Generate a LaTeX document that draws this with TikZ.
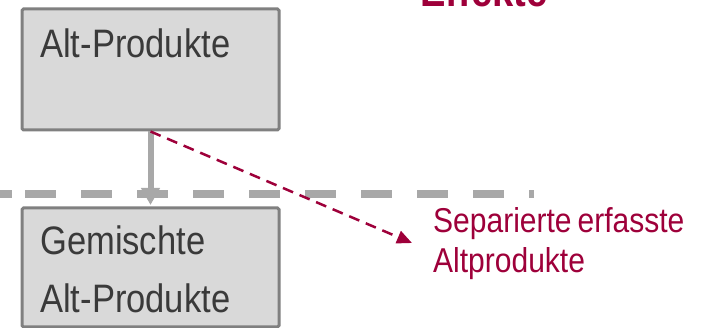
\documentclass[tikz,border=0pt]{standalone}
\usepackage{fontspec}
\setmainfont[FakeStretch=0.87]{Liberation Sans}
\usetikzlibrary{arrows.meta}
\definecolor{boxfill}{HTML}{D9D9D9}
\definecolor{boxline}{HTML}{808080}
\definecolor{lightline}{HTML}{A8A8A8}
\definecolor{wine}{RGB}{158,0,58}
\definecolor{boxtext}{HTML}{3A3A3A}
\newcommand\narrowspaces{\spaceskip=6pt\relax}
\begin{document}
\begin{tikzpicture}[x=1pt,y=-1pt,
  box/.style={draw=boxline, line width=3pt, fill=boxfill, rounded corners=1.5pt,
    inner sep=0pt, anchor=north west, minimum width=257pt},
  boxlabel/.style={anchor=base west, inner sep=0pt, text=boxtext,
    font=\fontsize{39.7}{58}\selectfont, text width=240pt, align=left},
  redlabel/.style={anchor=base west, inner sep=0pt, text=wine,
    font=\fontsize{34.5}{40}\selectfont, text width=270pt, align=left,
    execute at begin node=\narrowspaces},
  titlelabel/.style={anchor=base west, inner sep=0pt, text=wine,
    font=\bfseries\fontsize{43.8}{50}\selectfont},
  flowarrow/.style={draw=lightline, line width=6pt,
    -{Triangle[length=17pt,width=18pt]}, shorten >=1.5pt},
  sepline/.style={draw=lightline, line width=8pt,
    dash pattern=on 12pt off 13pt on 31pt off 25pt on 31pt off 25pt on 31pt off 25pt
      on 31pt off 25pt on 31pt off 25pt on 31pt off 25pt on 31pt off 25pt
      on 31pt off 25pt on 31pt off 25pt on 31pt off 25pt},
  redarrow/.style={draw=wine, line width=2.5pt, dash pattern=on 11pt off 7pt,
    -{Triangle[length=15pt,width=13pt]}}
]
\useasboundingbox (0,0) rectangle (707,328);
\clip (0,0) rectangle (707,328);

\node[titlelabel] (title) at (420,7) {Effekte};

\coordinate (sepL) at (0,194);
\coordinate (sepR) at (534,194);
\draw[sepline] (sepL) -- (sepR);

\node[box, minimum height=121pt] (alt) at (20.5,7.5) {};
\node[box, minimum height=119pt] (gem) at (20.5,206.5) {};

\node[boxlabel] (altlabel) at (40,58) {Alt-Produkte};
\node[boxlabel] (gemlabel) at (40,255) {Gemischte\\Alt-Produkte};

\draw[flowarrow] (alt.south) -- (gem.north);

\coordinate (sepend) at (412,243);
\draw[redarrow] (alt.south) -- (sepend);

\node[redlabel] (sep) at (433,233) {Separierte erfasste\\Altprodukte};
\end{tikzpicture}
\end{document}
